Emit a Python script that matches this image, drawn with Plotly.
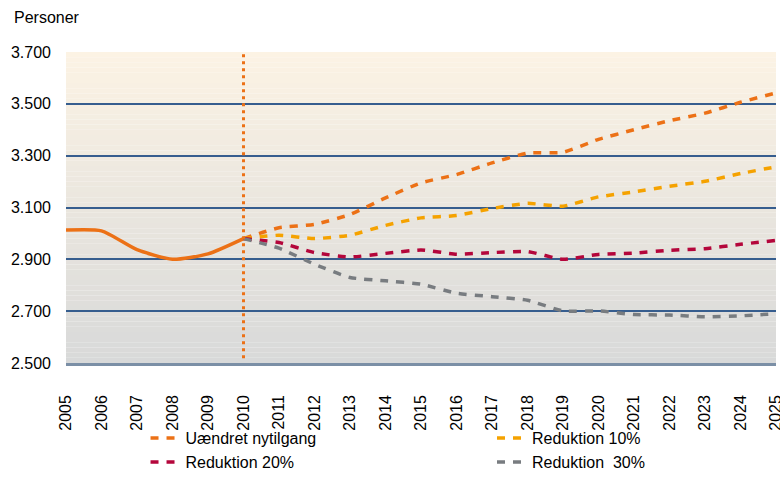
import plotly.graph_objects as go

# ---- data ----
hist_years = [2005, 2006, 2007, 2008, 2009, 2010]
hist_values = [3013, 3010, 2937, 2900, 2921, 2980]

proj_years = list(range(2010, 2026))
uaendret = [2980, 3022, 3035, 3073, 3137, 3195, 3227, 3272, 3310, 3313, 3363, 3400, 3435, 3464, 3506, 3542]
red10 = [2980, 2993, 2980, 2993, 3031, 3060, 3069, 3096, 3116, 3105, 3141, 3160, 3182, 3201, 3231, 3257]
red20 = [2980, 2965, 2926, 2909, 2923, 2936, 2920, 2926, 2930, 2900, 2919, 2924, 2935, 2941, 2958, 2973]
red30 = [2980, 2943, 2881, 2830, 2817, 2804, 2769, 2756, 2742, 2701, 2701, 2687, 2685, 2678, 2682, 2690]

series_names = ["Uændret nytilgang", "Reduktion 10%", "Reduktion 20%", "Reduktion  30%"]
forecast_start = 2010
y_title = "Personer"

# ---- styles ----
C_ORANGE = "#EC7116"
C_AMBER = "#F5A200"
C_RED = "#B4063B"
C_GRAY = "#787C80"
FONT = "Liberation Sans, Arial, sans-serif"
DASH = "8px,8px"

W, H = 780, 479
M_L, M_R, M_T = 66, 4, 52
PLOT_BOTTOM_PX = 363
paper_h = H - M_T

fig = go.Figure()

fig.add_trace(go.Scatter(x=hist_years, y=hist_values, mode="lines",
                         line=dict(color=C_ORANGE, width=3.5, shape="spline", smoothing=0.6),
                         showlegend=False, hoverinfo="skip"))

legend_ids = ["legend", "legend2", "legend3", "legend4"]
colors = [C_ORANGE, C_AMBER, C_RED, C_GRAY]
for vals, col, leg, name in zip([uaendret, red10, red20, red30], colors, legend_ids, series_names):
    fig.add_trace(go.Scatter(x=proj_years, y=vals, mode="lines", name=name,
                             line=dict(color=col, width=3.5, dash=DASH, shape="spline", smoothing=0.5),
                             legend=leg))

# gradient background (cream top -> grey bottom)
top = (252, 243, 228)
bot = (216, 217, 217)
n = 60
shapes = []
for i in range(n):
    t = (i + 0.5) / n
    c = tuple(round(top[k] + (bot[k] - top[k]) * t) for k in range(3))
    shapes.append(dict(type="rect", xref="x domain", yref="y domain",
                       x0=0, x1=1, y0=1 - (i + 1) / n, y1=1 - i / n,
                       fillcolor="rgb(%d,%d,%d)" % c, line=dict(width=0), layer="below"))
# forecast start marker
shapes.append(dict(type="line", xref="x", yref="y domain", x0=forecast_start, x1=forecast_start,
                   y0=0.015, y1=1, line=dict(color=C_ORANGE, width=3, dash="3px,4px"), layer="above"))


def py(px):  # pixel row -> paper fraction
    return (H - px) / paper_h


leg_common = dict(orientation="h", xanchor="left", yanchor="bottom",
                  font=dict(size=16), bgcolor="rgba(0,0,0,0)")
col1_x, col2_x = 0.112, 0.600
row1_y, row2_y = py(H - 24), 0.0

fig.update_layout(
    width=W, height=H,
    margin=dict(l=M_L, r=M_R, t=M_T, b=0),
    paper_bgcolor="white", plot_bgcolor="rgba(0,0,0,0)",
    separators=",.",
    font=dict(family=FONT, size=16, color="#000000"),
    shapes=shapes,
    xaxis=dict(range=[2005, 2025], dtick=1, tick0=2005, tickangle=-90, showgrid=False,
               showline=True, linecolor="#7B8FA6", linewidth=2.5, ticks="",
               ticklabelstandoff=23, ticklabeloverflow="allow", tickfont=dict(size=16),
               zeroline=False, automargin=False),
    yaxis=dict(range=[2500, 3700], dtick=200, tick0=2500, tickformat=",d", showgrid=True,
               gridcolor="#365D8E", gridwidth=2, zeroline=False, ticks="",
               ticklabelstandoff=14, tickfont=dict(size=16), automargin=False,
               domain=[py(PLOT_BOTTOM_PX), 1]),
    legend=dict(x=col1_x, y=row1_y, **leg_common),
    legend2=dict(x=col2_x, y=row1_y, **leg_common),
    legend3=dict(x=col1_x, y=row2_y, **leg_common),
    legend4=dict(x=col2_x, y=row2_y, **leg_common),
    annotations=[dict(text=y_title, xref="paper", yref="paper", x=-0.076, y=py(18),
                      xanchor="left", yanchor="middle", showarrow=False, font=dict(size=16))],
)

fig.write_html("out.html", config=dict(displayModeBar=False),
               post_script="document.body.style.margin='0';document.body.style.overflow='hidden';")
